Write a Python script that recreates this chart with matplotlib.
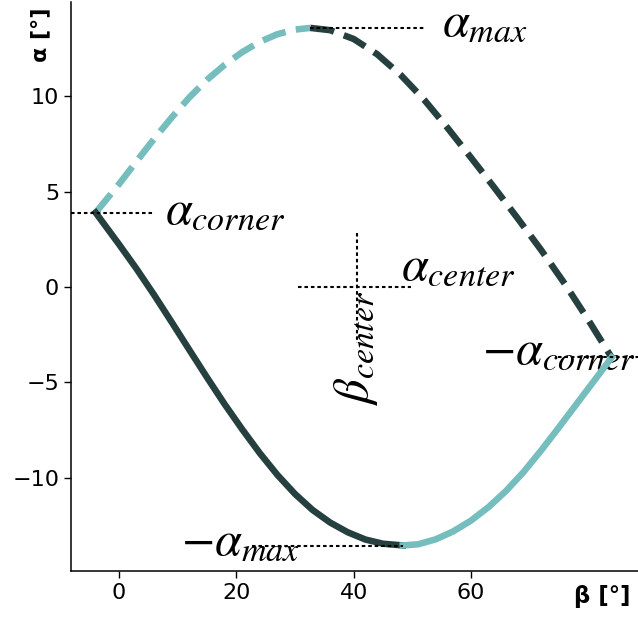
import numpy as np
import matplotlib
matplotlib.use("Agg")
import matplotlib.pyplot as plt

plt.rcParams["mathtext.fontset"] = "stix"

LIGHT = "#76bdbd"
DARK = "#263f3f"

# upper-left branch: left corner -> alpha max (dashed, light)
beta_ul = [-4.0, 0, 3, 6, 9, 12, 15, 18, 21, 24, 27, 30, 32.6]
alpha_ul = [3.90, 5.40, 6.60, 7.78, 8.90, 9.95, 10.87, 11.65, 12.32, 12.86, 13.26, 13.50, 13.59]

# upper-right branch: alpha max -> right corner (dashed, dark)
beta_ur = [32.6, 36, 40, 44, 48, 52, 56, 60, 64, 68, 72, 76, 80, 84.0]
alpha_ur = [13.59, 13.47, 13.01, 12.21, 11.13, 9.83, 8.35, 6.79, 5.21, 3.59, 1.93, 0.17, -1.72, -3.70]

# lower-left branch: left corner -> -alpha max (solid, dark)
beta_ll = [-4.0, 0, 3, 6, 9, 12, 15, 18, 21, 24, 27, 30, 33, 36, 39, 42, 45, 48.4]
alpha_ll = [3.90, 2.23, 0.94, -0.43, -1.86, -3.31, -4.75, -6.15, -7.47, -8.72,
            -9.86, -10.86, -11.70, -12.36, -12.87, -13.25, -13.47, -13.56]

# lower-right branch: -alpha max -> right corner (solid, light)
beta_lr = [48.4, 51, 54, 57, 60, 63, 66, 69, 72, 75, 78, 81, 84.0]
alpha_lr = [-13.56, -13.50, -13.24, -12.82, -12.26, -11.55, -10.70, -9.70, -8.57,
            -7.37, -6.15, -4.93, -3.70]

beta_center = 40.5
alpha_center = 0.0
alpha_max = 13.59
alpha_corner = 3.90
alpha_corner_neg = -3.70

fig = plt.figure(figsize=(6.38, 6.17), dpi=100)
ax = fig.add_axes([0.1113, 0.0746, 0.8887, 0.9222])

lw = 4.7
ax.plot(beta_ul, alpha_ul, "--", color=LIGHT, lw=lw)
ax.plot(beta_ur, alpha_ur, "--", color=DARK, lw=lw)
ax.plot(beta_ll, alpha_ll, "-", color=DARK, lw=lw, solid_joinstyle="round")
ax.plot(beta_lr, alpha_lr, "-", color=LIGHT, lw=lw, solid_joinstyle="round", zorder=3.5)

dot = dict(color="black", lw=1.5, ls=(0, (1.7, 1.4)), zorder=4)
ax.plot([beta_ul[-1], 52.2], [alpha_max, alpha_max], **dot)
ax.plot([-8.2, 6.1], [alpha_corner, alpha_corner], **dot)
ax.plot([74.9, 88.5], [alpha_corner_neg, alpha_corner_neg], **dot)
ax.plot([22.6, beta_ll[-1]], [-alpha_max, -alpha_max], **dot)
ax.plot([beta_center - 10.0, beta_center + 9.3], [alpha_center, alpha_center], **dot)
ax.plot([beta_center, beta_center], [2.85, -2.95], **dot)

fs = 35
ax.text(55.0, 13.2, r"$\alpha_{max}$", fontsize=fs, ha="left", va="baseline")
ax.text(7.9, 3.35, r"$\alpha_{corner}$", fontsize=fs, ha="left", va="baseline")
ax.text(48.0, 0.37, r"$\alpha_{center}$", fontsize=fs, ha="left", va="baseline")
ax.text(42.4, -6.2, r"$\beta_{center}$", fontsize=fs, ha="left", va="baseline",
        rotation=90, rotation_mode="anchor")
ax.text(61.9, -4.0, r"$-\alpha_{corner}$", fontsize=fs, ha="left", va="baseline")
ax.text(10.5, -14.05, r"$-\alpha_{max}$", fontsize=fs, ha="left", va="baseline")

ax.set_xlim(-8.2, 88.5)
ax.set_ylim(-14.9, 14.95)
ax.set_xticks([0, 20, 40, 60])
ax.set_yticks([-10, -5, 0, 5, 10])
ax.tick_params(labelsize=16, length=5, width=1)
for side in ["top", "right"]:
    ax.spines[side].set_visible(False)
for side in ["left", "bottom"]:
    ax.spines[side].set_linewidth(1.1)

ax.set_ylabel("α [°]", fontsize=16, fontweight="bold", loc="top")
ax.yaxis.set_label_coords(-0.037, 0.99)
ax.set_xlabel("β [°]", fontsize=16.5, fontweight="bold", loc="right")
ax.xaxis.set_label_coords(0.986, -0.025)

fig.savefig("out.png", dpi=100)
